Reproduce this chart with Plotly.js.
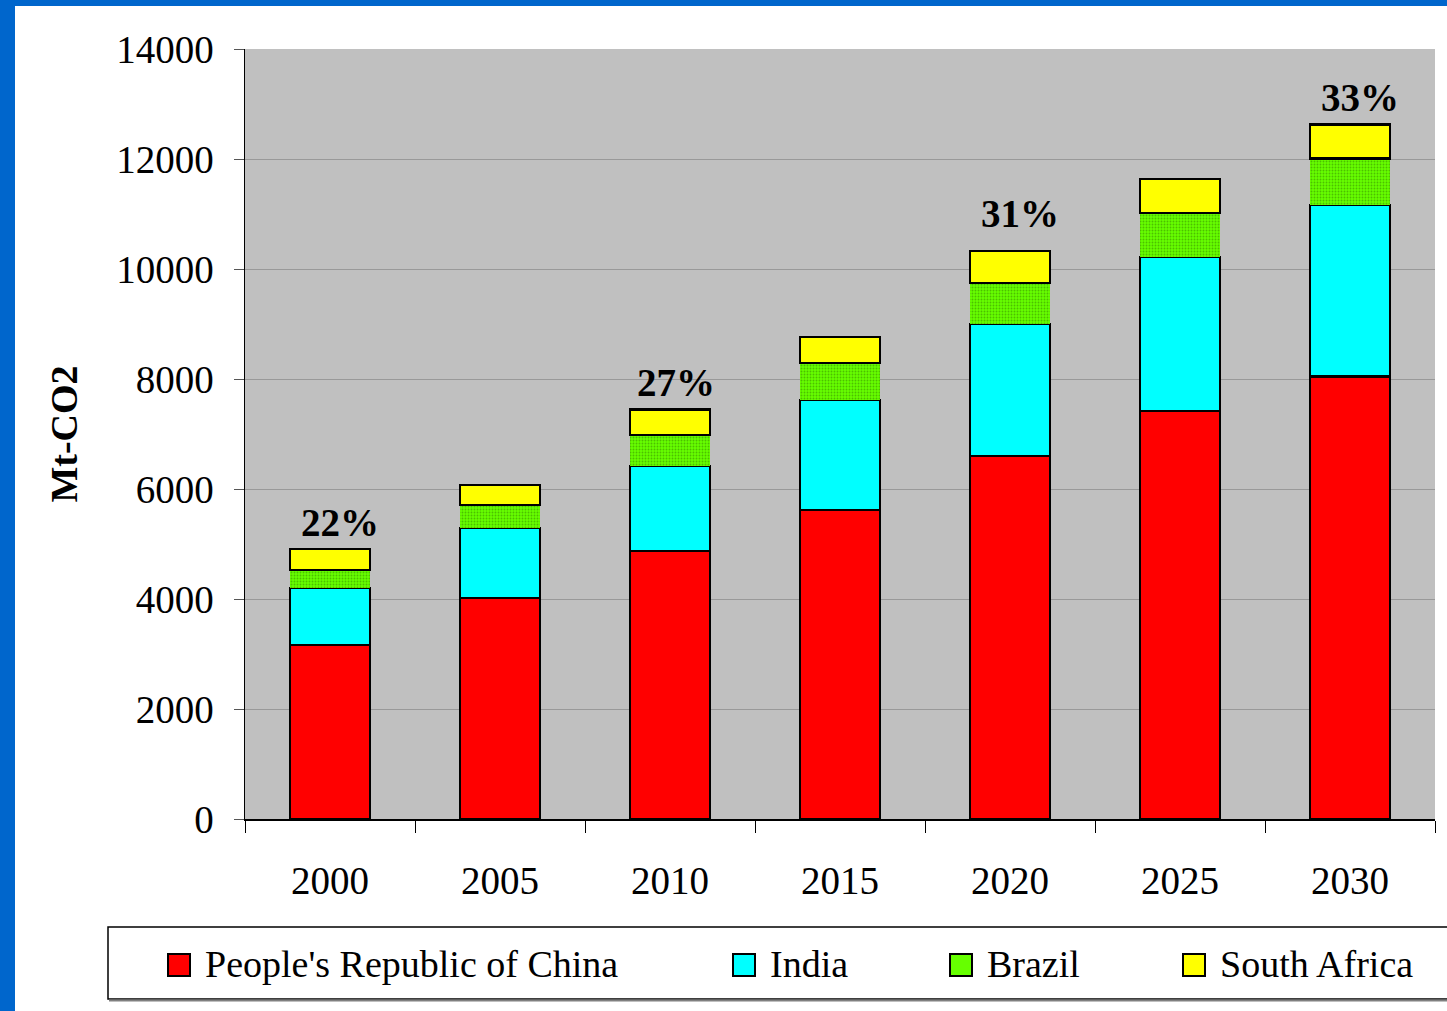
<!DOCTYPE html>
<html>
<head>
<meta charset="utf-8">
<script src="https://cdn.plot.ly/plotly-3.0.1.min.js"></script>
<style>
  html, body { margin: 0; padding: 0; background: #fff; }
  #wrap { position: relative; width: 1447px; height: 1011px; overflow: hidden; }
  #chart { position: absolute; left: 0; top: 0; width: 1447px; height: 1011px; }
  .frameL { position: absolute; left: 0; top: 0; width: 15px; height: 1011px; background: #0066CC; z-index: 5; }
  .frameT { position: absolute; left: 0; top: 0; width: 1447px; height: 6px; background: #0066CC; z-index: 5; }
</style>
</head>
<body>
<div id="wrap">
  <div id="chart"></div>
  <div class="frameL"></div>
  <div class="frameT"></div>
</div>
<script>
// ---- data ----
const years = ["2000", "2005", "2010", "2015", "2020", "2025", "2030"];
const china = [3160, 4020, 4870, 5620, 6600, 7420, 8050];
const india = [1040, 1270, 1550, 2000, 2400, 2800, 3110];
const brazil = [330, 420, 560, 670, 750, 800, 850];
const southAfrica = [380, 360, 470, 470, 580, 620, 620];
const shareLabels = ["22%", "", "27%", "", "31%", "", "33%"];
const seriesNames = ["People's Republic of China", "India", "Brazil", "South Africa"];
const yTicks = [0, 2000, 4000, 6000, 8000, 10000, 12000, 14000];

// ---- style ----
const FONT = "Liberation Serif, Times New Roman, serif";
const colors = ["#FF0000", "#00FFFF", "#66FF00", "#FFFF00"];
const seriesValues = [china, india, brazil, southAfrica];

const traces = seriesValues.map((vals, i) => {
  const t = {
    type: "bar",
    name: seriesNames[i],
    x: years,
    y: vals,
    marker: {
      color: colors[i],
      line: { color: "#000", width: i === 2 ? 0 : 2.5 }
    },
    showlegend: false,
    hoverinfo: "x+y+name"
  };
  if (i === 2) {
    t.marker.pattern = { shape: ".", bgcolor: "#66FF00", fgcolor: "#4CC000", size: 3, solidity: 0.3, fillmode: "replace" };
  }
  return t;
});

const totals = years.map((_, k) => seriesValues.reduce((s, arr) => s + arr[k], 0));

// plot area in pixels
const L = 245, R = 12, T = 49, B = 192, W = 1447, H = 1011;
const pw = W - L - R, ph = H - T - B;
const px2x = p => (p - L) / pw;
const px2y = p => (H - B - p) / ph;

const annotations = [];
shareLabels.forEach((s, k) => {
  if (!s) return;
  annotations.push({
    x: k, y: totals[k], xref: "x", yref: "y",
    text: "<b>" + s + "</b>", showarrow: false,
    xanchor: "center", yanchor: "bottom", xshift: k === 2 ? 6 : 10, yshift: k === 4 ? 14 : 3,
    font: { family: FONT, size: 39, color: "#000" }
  });
});

// legend (custom, drawn in paper coordinates)
const shapes = [];
const legendSwatchLeft = [168, 733, 950, 1183];
const legendY = 965;
shapes.push({ type: "rect", xref: "paper", yref: "paper",
  x0: px2x(108), x1: px2x(1460), y0: px2y(999), y1: px2y(927),
  line: { color: "#000", width: 1.5 }, fillcolor: "#fff", layer: "above" });
shapes.push({ type: "line", xref: "paper", yref: "paper",
  x0: px2x(109), x1: px2x(1460), y0: px2y(1000.5), y1: px2y(1000.5),
  line: { color: "#808080", width: 2 }, layer: "above" });
seriesNames.forEach((n, i) => {
  const x0 = legendSwatchLeft[i];
  shapes.push({ type: "rect", xref: "paper", yref: "paper",
    x0: px2x(x0), x1: px2x(x0 + 22), y0: px2y(legendY + 11), y1: px2y(legendY - 11),
    line: { color: "#000", width: 2 }, fillcolor: colors[i], layer: "above" });
  annotations.push({ xref: "paper", yref: "paper", x: px2x(x0 + 35), y: px2y(legendY - 1),
    text: n, showarrow: false, xanchor: "left", yanchor: "middle",
    font: { family: FONT, size: 38, color: "#000" } });
});

const layout = {
  width: W, height: H,
  margin: { l: L, r: R, t: T, b: B, pad: 0 },
  paper_bgcolor: "#fff",
  plot_bgcolor: "#C0C0C0",
  barmode: "stack",
  bargap: 0.53,
  showlegend: false,
  font: { family: FONT, color: "#000" },
  xaxis: {
    type: "category",
    range: [-0.5, 6.5],
    showline: true, linecolor: "#000", linewidth: 1.5,
    ticks: "outside", ticklen: 12, tickcolor: "#000", tickwidth: 1,
    tickson: "boundaries",
    showgrid: false,
    tickfont: { family: FONT, size: 39, color: "#000" },
    ticklabelstandoff: 27,
    automargin: false, fixedrange: true
  },
  yaxis: {
    range: [0, 14000],
    tickvals: yTicks,
    ticktext: yTicks.map(String),
    showline: true, linecolor: "#000", linewidth: 1.5,
    ticks: "outside", ticklen: 10, tickcolor: "#555", tickwidth: 1,
    showgrid: true, gridcolor: "#999", gridwidth: 1,
    zeroline: false,
    tickfont: { family: FONT, size: 39, color: "#000" },
    ticklabelstandoff: 12,
    title: { text: "<b>Mt-CO2</b>", font: { family: FONT, size: 38, color: "#000" }, standoff: 27 },
    automargin: false, fixedrange: true
  },
  annotations: annotations,
  shapes: shapes
};

Plotly.newPlot("chart", traces, layout, { displayModeBar: false, staticPlot: true });
</script>
</body>
</html>
